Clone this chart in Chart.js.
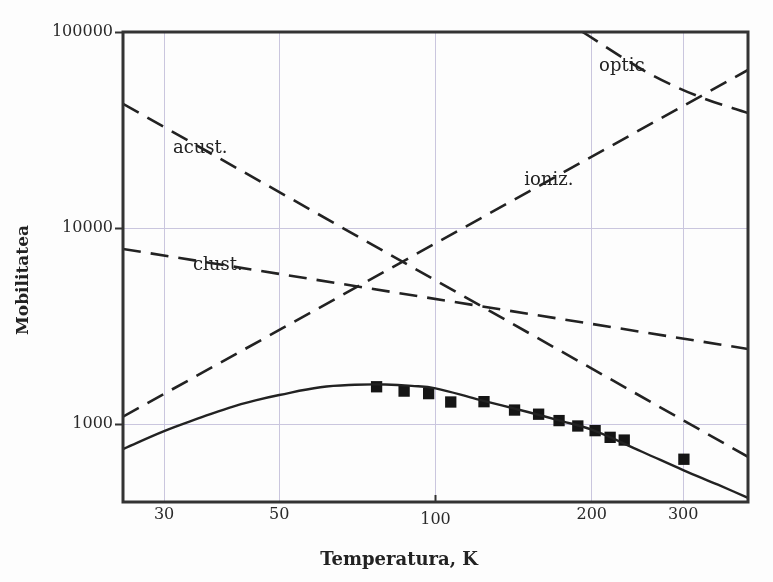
<!DOCTYPE html>
<html lang="ro">
<head>
  <meta charset="UTF-8" />
  <title>Mobilitatea vs Temperatura</title>
  <script src="https://cdn.jsdelivr.net/npm/chart.js"></script>
  <style>
    body { margin: 0; background: #fdfdfd; }
    canvas { display: block; }
  </style>
</head>
<body>
  <canvas id="mobChart" width="773" height="582"></canvas>

  <script>
    // curba teoretica (totala)
    const tempFit = [25, 30, 35, 40, 45, 50, 60, 70, 80, 90, 100, 120, 150, 175, 200, 250, 300, 350, 400];
    const mobFit = [745, 920, 1070, 1210, 1320, 1406, 1540, 1585, 1590, 1565, 1520, 1340, 1155, 1035, 935, 722, 582, 490, 420];

    // mecanisme de imprastiere (linii punctate)
    const tempAcust = [25, 400];
    const mobAcust = [43000, 680];
    const tempIoniz = [25, 400];
    const mobIoniz = [1090, 64000];
    const tempClust = [25, 400];
    const mobClust = [7820, 2415];
    const tempOptic = [192, 261, 324, 400];
    const mobOptic = [100000, 60400, 46500, 38600];

    // puncte experimentale
    const tempExp = [77, 87, 97, 107, 124, 142, 158, 173, 188, 203, 217, 231, 301];
    const mobExp = [1549, 1472, 1429, 1295, 1300, 1178, 1122, 1041, 977, 925, 855, 828, 661];

    const xTicks = [30, 50, 100, 200, 300];
    const yTicks = [1000, 10000, 100000];

    // etichetele curbelor: text, T, mobilitate
    const curveLabels = [
      ['acust.', 31.2, 24200],
      ['clust.', 34.1, 6110],
      ['optic', 206.6, 63200],
      ['ioniz.', 148.3, 16560]
    ];

    const toPoints = (xs, ys) => xs.map((x, i) => ({ x: x, y: ys[i] }));

    const dashed = (xs, ys) => ({
      data: toPoints(xs, ys),
      showLine: true,
      borderColor: '#222',
      borderWidth: 2.6,
      borderDash: [18, 10],
      pointRadius: 0,
      fill: false
    });

    const serif = '"DejaVu Serif", serif';

    const extras = {
      id: 'extras',
      afterDraw(chart) {
        const { ctx, chartArea: a, scales } = chart;
        ctx.save();
        // rama
        ctx.strokeStyle = '#333';
        ctx.lineWidth = 3;
        ctx.strokeRect(a.left, a.top, a.right - a.left, a.bottom - a.top);
        // mic tick la 100
        const x100 = scales.x.getPixelForValue(100);
        ctx.lineWidth = 2;
        ctx.beginPath();
        ctx.moveTo(x100, a.bottom);
        ctx.lineTo(x100, a.bottom - 7);
        ctx.stroke();
        // etichete curbe
        ctx.fillStyle = '#222';
        ctx.font = '18px ' + serif;
        ctx.textAlign = 'left';
        ctx.textBaseline = 'alphabetic';
        curveLabels.forEach(([txt, t, m]) => {
          ctx.fillText(txt, scales.x.getPixelForValue(t), scales.y.getPixelForValue(m));
        });
        // titluri axe
        ctx.font = 'bold 18px ' + serif;
        ctx.textAlign = 'center';
        ctx.fillText('Temperatura, K', 399, 565);
        ctx.translate(28, 280);
        ctx.rotate(-Math.PI / 2);
        ctx.font = 'bold 17px ' + serif;
        ctx.fillText('Mobilitatea', 0, 0);
        ctx.restore();
      }
    };

    new Chart(document.getElementById('mobChart'), {
      type: 'scatter',
      data: {
        datasets: [
          {
            data: toPoints(tempFit, mobFit),
            showLine: true,
            borderColor: '#222',
            borderWidth: 2.4,
            tension: 0.4,
            pointRadius: 0
          },
          dashed(tempAcust, mobAcust),
          dashed(tempIoniz, mobIoniz),
          dashed(tempClust, mobClust),
          Object.assign(dashed(tempOptic, mobOptic), { cubicInterpolationMode: 'monotone' }),
          {
            data: toPoints(tempExp, mobExp),
            showLine: false,
            pointStyle: 'rect',
            pointRadius: 8,
            backgroundColor: '#151515',
            borderWidth: 0
          }
        ]
      },
      options: {
        responsive: false,
        animation: false,
        layout: { padding: { top: 32, right: 25, left: 0, bottom: 0 } },
        plugins: { legend: { display: false }, tooltip: { enabled: false } },
        scales: {
          x: {
            type: 'logarithmic',
            min: 25,
            max: 400,
            afterBuildTicks: (s) => { s.ticks = xTicks.map(v => ({ value: v })); },
            afterFit: (s) => { s.height = 80; },
            grid: { color: '#cac6de', lineWidth: 1, drawTicks: false },
            border: { display: false },
            ticks: {
              color: '#2a2a2a',
              padding: 3,
              maxRotation: 0,
              autoSkip: false,
              font: (c) => ({ family: serif, size: 16, lineHeight: c.tick && c.tick.value === 100 ? 1.8 : 1.2 }),
              callback: (v) => String(v)
            }
          },
          y: {
            type: 'logarithmic',
            min: 400,
            max: 100000,
            afterBuildTicks: (s) => { s.ticks = yTicks.map(v => ({ value: v })); },
            afterFit: (s) => { s.width = 123; },
            grid: { color: '#cac6de', lineWidth: 1, tickLength: 8, tickColor: '#333', tickWidth: 2 },
            border: { display: false },
            ticks: {
              color: '#2a2a2a',
              padding: 2,
              autoSkip: false,
              font: { family: serif, size: 16 },
              callback: (v) => String(v)
            }
          }
        }
      },
      plugins: [extras]
    });
  </script>
</body>
</html>
